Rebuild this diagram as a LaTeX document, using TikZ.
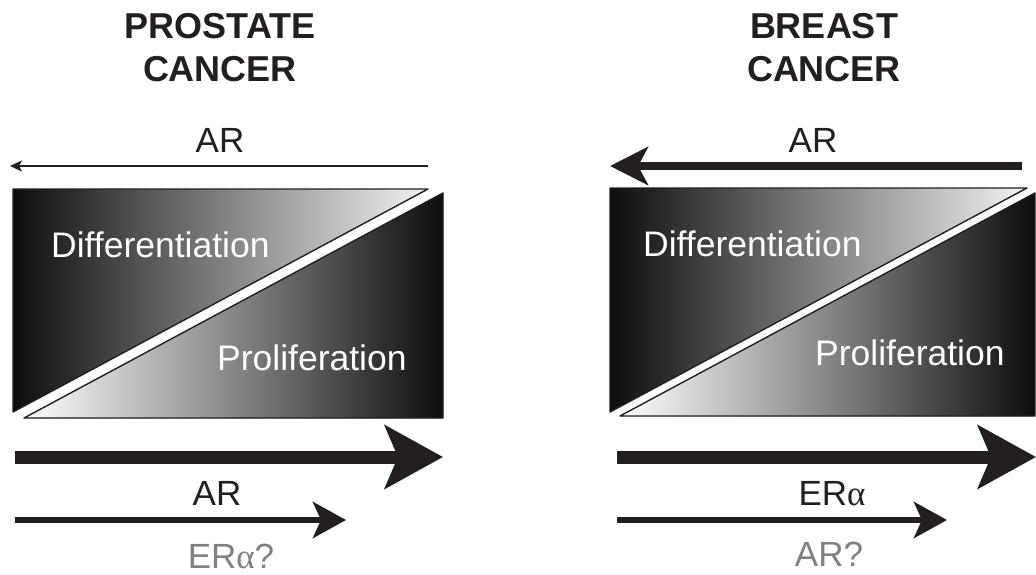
\documentclass[tikz,border=0pt]{standalone}
\usepackage{fontspec}
\setmainfont{Liberation Sans}
\newfontfamily\grkfont{Liberation Serif}
\usetikzlibrary{arrows.meta}
\definecolor{ink}{HTML}{231F20}
\definecolor{qgray}{HTML}{808080}
\newcommand{\myalpha}{{\grkfont α}}
\tikzset{
  title/.style={font=\bfseries\fontsize{36}{43}\selectfont, text=ink, align=center, inner sep=0pt, anchor=north},
  lbl/.style={font=\fontsize{35}{40}\selectfont, text=ink, inner sep=0pt, anchor=base},
  qlbl/.style={lbl, text=qgray},
  boxlbl/.style={font=\fontsize{35.5}{40}\selectfont, text=white, inner sep=0pt, anchor=base west},
  tri/.style={draw=ink, line width=1.4pt, line join=round},
  thinarrow/.style={draw=ink, line width=2pt, -{Stealth[length=12pt, width=11pt, inset=3pt]}},
  medarrow/.style={draw=ink, line width=8pt, -{Stealth[length=38pt, width=38pt, inset=10pt]}},
  bigarrow/.style={draw=ink, line width=13pt, -{Stealth[length=58pt, width=63pt, inset=13pt]}},
  smallarrow/.style={draw=ink, line width=6.5pt, -{Stealth[length=33pt, width=36pt, inset=8pt]}},
}
\begin{document}
\begin{tikzpicture}[x=1pt,y=-1pt]
\useasboundingbox (0,0) rectangle (1036,575);
\fill[white] (0,0) rectangle (1036,575);

% ---------- Prostate cancer ----------
\node[title] (ttlP) at (220,13) {PROSTATE\\CANCER};
\node[lbl] (arTopP) at (220,153) {AR};
\coordinate (aTopPs) at (428,166);
\coordinate (aTopPe) at (10,166);
\draw[thinarrow] (aTopPs) -- (aTopPe);

\fill[tri, left color=black!95, right color=black!5] (13,189) -- (428,189) -- (13,412) -- cycle;
\fill[tri, left color=white, right color=black!95] (24,418) -- (443,193) -- (443,418) -- cycle;
\node[boxlbl] (diffP) at (51,257) {Differentiation};
\node[boxlbl] (prolP) at (217,370) {Proliferation};

\coordinate (aBigPs) at (15,457);
\coordinate (aBigPe) at (443,457);
\draw[bigarrow] (aBigPs) -- (aBigPe);
\node[lbl] (arBotP) at (217,505) {AR};
\coordinate (aSmPs) at (15,520);
\coordinate (aSmPe) at (346,520);
\draw[smallarrow] (aSmPs) -- (aSmPe);
\node[qlbl] (erP) at (231,568) {ER\myalpha?};

% ---------- Breast cancer ----------
\node[title] (ttlB) at (824,13) {BREAST\\CANCER};
\node[lbl] (arTopB) at (813,153) {AR};
\coordinate (aTopBs) at (1022,166);
\coordinate (aTopBe) at (610,166);
\draw[medarrow] (aTopBs) -- (aTopBe);

\fill[tri, left color=black!95, right color=black!5] (610,188) -- (1027,188) -- (610,412) -- cycle;
\fill[tri, left color=white, right color=black!95] (620,416) -- (1035,193) -- (1035,416) -- cycle;
\node[boxlbl] (diffB) at (643,256) {Differentiation};
\node[boxlbl] (prolB) at (815,365) {Proliferation};

\coordinate (aBigBs) at (617,457);
\coordinate (aBigBe) at (1036,457);
\draw[bigarrow] (aBigBs) -- (aBigBe);
\node[lbl] (erB) at (832,505) {ER\myalpha};
\coordinate (aSmBs) at (617,520);
\coordinate (aSmBe) at (947,520);
\draw[smallarrow] (aSmBs) -- (aSmBe);
\node[qlbl] (arQB) at (829,566) {AR?};
\end{tikzpicture}
\end{document}
